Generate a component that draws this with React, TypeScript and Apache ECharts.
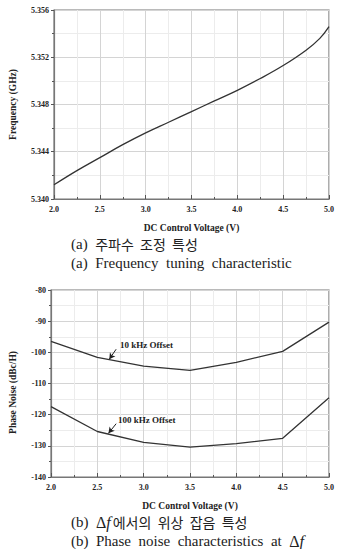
import React, { useEffect, useRef } from "react";
import * as echarts from "echarts";

// Frequency tuning: control voltage (V) vs. oscillation frequency (GHz)
const tuneVoltage = [2.0, 2.25, 2.5, 2.75, 3.0, 3.25, 3.5, 3.75, 4.0, 4.25, 4.5, 4.75, 4.9, 5.0];
const tuneFreq = [5.3412, 5.3424, 5.3435, 5.3446, 5.3456, 5.3465, 5.3474, 5.3483, 5.3492, 5.3502, 5.3513, 5.3526, 5.3536, 5.3546];

// Phase noise vs. control voltage (dBc/Hz)
const pnVoltage = [2.0, 2.5, 3.0, 3.5, 4.0, 4.5, 5.0];
const pn10k = [-96.5, -101.6, -104.4, -105.8, -103.2, -99.7, -90.3];
const pn100k = [-117.4, -125.4, -128.9, -130.4, -129.3, -127.6, -114.6];

const captionA1 = "주파수  조정  특성";
const captionA2 = "(a)  Frequency  tuning  characteristic";
const captionB1 = "에서의  위상  잡음  특성";
const captionB2 = "(b)  Phase  noise  characteristics  at  ";

const SERIF = "Liberation Serif, DejaVu Serif, serif";
const KR = "Noto Sans CJK KR, sans-serif";

function xAxisCfg(gridIndex: number) {
  return {
    type: "value",
    gridIndex,
    min: 2.0,
    max: 5.0,
    interval: 0.5,
    name: "DC Control Voltage (V)",
    nameLocation: "middle",
    nameGap: 24,
    nameTextStyle: { fontFamily: SERIF, fontWeight: "bold", fontSize: 9.5, color: "#222" },
    axisLine: { show: true, lineStyle: { color: "#777", width: 1.2 } },
    axisTick: { show: true, inside: true, length: 4, lineStyle: { color: "#555" } },
    minorTick: { show: true, splitNumber: 2, length: 2, lineStyle: { color: "#555" } },
    axisLabel: {
      fontFamily: SERIF,
      fontWeight: "bold",
      fontSize: 8,
      color: "#222",
      margin: 6,
      formatter: (v: number) => v.toFixed(1),
    },
    splitLine: { show: true, lineStyle: { color: "#d4d4d4", width: 1 } },
    minorSplitLine: { show: true, lineStyle: { color: "#ececec", width: 1 } },
  };
}

function yAxisCfg(
  gridIndex: number,
  min: number,
  max: number,
  interval: number,
  name: string,
  digits: number,
  namePad: number[]
) {
  return {
    type: "value",
    gridIndex,
    min,
    max,
    interval,
    name,
    nameLocation: "middle",
    nameGap: digits > 0 ? 36 : 33,
    nameTextStyle: { fontFamily: SERIF, fontWeight: "bold", fontSize: 9.5, color: "#222", padding: namePad },
    axisLine: { show: true, lineStyle: { color: "#777", width: 1.2 } },
    axisTick: { show: true, inside: false, length: 3, lineStyle: { color: "#555" } },
    minorTick: { show: true, splitNumber: 2, length: 2, lineStyle: { color: "#555" } },
    axisLabel: {
      fontFamily: SERIF,
      fontWeight: "bold",
      fontSize: 8,
      color: "#222",
      margin: 5,
      formatter: (v: number) => v.toFixed(digits),
    },
    splitLine: { show: true, lineStyle: { color: "#d4d4d4", width: 1 } },
    minorSplitLine: { show: true, lineStyle: { color: "#ececec", width: 1 } },
  };
}

const lineStyle = { color: "#333", width: 1.3 };

function offsetNote(text: string, textAt: [number, number], from: [number, number], to: [number, number]) {
  return {
    markPoint: {
      symbol: "circle",
      symbolSize: 0,
      silent: true,
      label: {
        show: true,
        position: "right",
        distance: 0,
        formatter: text,
        fontFamily: SERIF,
        fontWeight: "bold",
        fontSize: 9,
        color: "#222",
      },
      data: [{ coord: textAt }],
    },
    markLine: {
      silent: true,
      symbol: ["none", "arrow"],
      symbolSize: [5, 6],
      label: { show: false },
      lineStyle: { color: "#222", width: 1, type: "solid" },
      data: [[{ coord: from }, { coord: to }]],
    },
  };
}

// caption text styles: serif for Latin/Greek runs, CJK font for Hangul
const captionRich = {
  s: { fontFamily: SERIF, fontSize: 15, fill: "#222" },
  k: { fontFamily: KR, fontSize: 14, fill: "#222" },
  d: { fontFamily: SERIF, fontSize: 16, fill: "#222" },
  f: { fontFamily: SERIF, fontSize: 16, fontStyle: "italic", fill: "#222", padding: [0, 2, 0, 0] },
};

export default function App() {
  const ref = useRef<HTMLDivElement>(null);

  useEffect(() => {
    if (!ref.current) return;
    const chart = echarts.init(ref.current, undefined, { renderer: "svg" });
    chart.setOption({
      animation: false,
      backgroundColor: "#fff",
      grid: [
        { left: 44, top: 10, width: 286, height: 189, show: true, borderColor: "#777", borderWidth: 1.2, backgroundColor: "transparent" },
        { left: 44, top: 290, width: 286, height: 187, show: true, borderColor: "#777", borderWidth: 1.2, backgroundColor: "transparent" },
      ],
      xAxis: [xAxisCfg(0), xAxisCfg(1)],
      yAxis: [
        yAxisCfg(0, 5.34, 5.356, 0.004, "Frequency (GHz)", 3, [0, 0, 0, 0]),
        yAxisCfg(1, -140, -80, 10, "Phase Noise (dBc/H)", 0, [0, 18, 0, 0]),
      ],
      series: [
        {
          type: "line",
          xAxisIndex: 0,
          yAxisIndex: 0,
          smooth: 0.4,
          showSymbol: false,
          lineStyle,
          data: tuneVoltage.map((v, i) => [v, tuneFreq[i]]),
        },
        {
          type: "line",
          xAxisIndex: 1,
          yAxisIndex: 1,
          showSymbol: false,
          lineStyle,
          data: pnVoltage.map((v, i) => [v, pn10k[i]]),
          ...offsetNote("10 kHz Offset", [2.745, -97.7], [2.703, -99.0], [2.629, -102.2]),
        },
        {
          type: "line",
          xAxisIndex: 1,
          yAxisIndex: 1,
          showSymbol: false,
          lineStyle,
          data: pnVoltage.map((v, i) => [v, pn100k[i]]),
          ...offsetNote("100 kHz Offset", [2.724, -121.6], [2.703, -122.9], [2.62, -126.0]),
        },
      ],
      graphic: [
        {
          type: "text",
          left: 71,
          top: 236,
          style: {
            text: "{s|(a)  }{k|" + captionA1 + "}",
            fontSize: 15,
            fill: "#222",
            rich: captionRich,
          },
        },
        {
          type: "text",
          left: 71,
          top: 255,
          style: { text: captionA2, fontFamily: SERIF, fontSize: 15, fill: "#222" },
        },
        {
          type: "text",
          left: 71,
          top: 514,
          style: {
            text: "{s|(b)  }{d|Δ}{f|f}{k|" + captionB1 + "}",
            fontSize: 15,
            fill: "#222",
            rich: captionRich,
          },
        },
        {
          type: "text",
          left: 71,
          top: 533,
          style: {
            text: "{s|" + captionB2 + "}{d|Δ}{f|f}",
            fontSize: 15,
            fill: "#222",
            rich: captionRich,
          },
        },
      ],
    });
    return () => chart.dispose();
  }, []);

  return <div ref={ref} style={{ position: "fixed", left: 0, top: 0, width: 337, height: 549 }} />;
}
